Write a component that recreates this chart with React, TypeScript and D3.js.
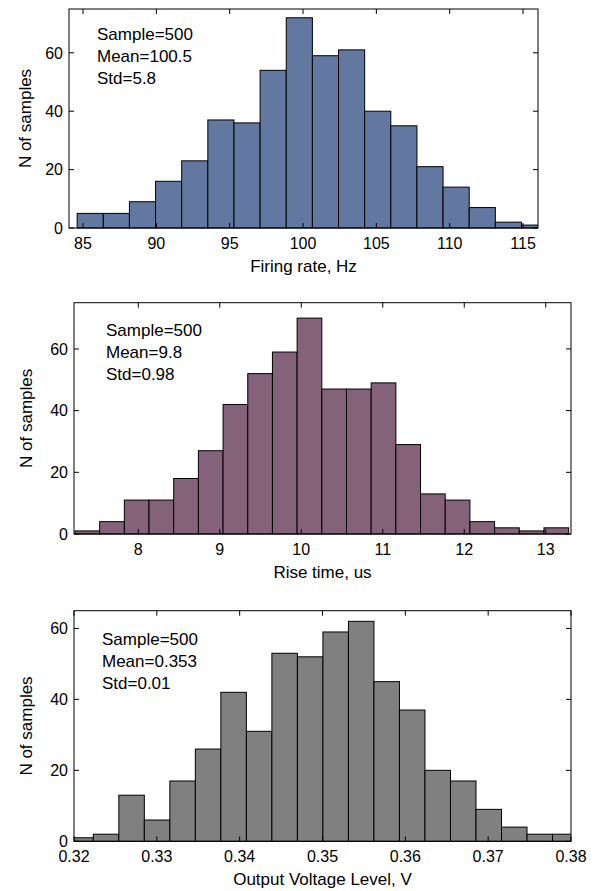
import React from "react";
import * as d3 from "d3";

// histogram counts, one per bin
const firingCounts = [5, 5, 9, 16, 23, 37, 36, 54, 72, 59, 61, 40, 35, 21, 14, 7, 2, 1];
const firingBinStart = 84.6;
const firingBinWidth = 1.782;
const firingTicks = [85, 90, 95, 100, 105, 110, 115];

const riseCounts = [1, 4, 11, 11, 18, 27, 42, 52, 59, 70, 47, 47, 49, 29, 13, 11, 4, 2, 1, 2];
const riseBinStart = 7.223;
const riseBinWidth = 0.3029;
const riseTicks = [8, 9, 10, 11, 12, 13];

const voltCounts = [1, 2, 13, 6, 17, 26, 42, 31, 53, 52, 59, 62, 45, 37, 20, 17, 9, 4, 2, 2];
const voltBinStart = 0.31925;
const voltBinWidth = 0.00308;
const voltTicks = [0.32, 0.33, 0.34, 0.35, 0.36, 0.37, 0.38];

const yTicks = [0, 20, 40, 60];

const firingStats = ["Sample=500", "Mean=100.5", "Std=5.8"];
const riseStats = ["Sample=500", "Mean=9.8", "Std=0.98"];
const voltStats = ["Sample=500", "Mean=0.353", "Std=0.01"];

const FONT = "'Liberation Sans', Arial, Helvetica, sans-serif";

function Hist({ id, box, xDomain, yMax, counts, binStart, binWidth, xTicks, tickFmt, fill, stats, statsPos, xLabel, yLabelX }) {
    const [left, top, right, bottom] = box;
    const x = d3.scaleLinear().domain(xDomain).range([left, right]);
    const y = d3.scaleLinear().domain([0, yMax]).range([bottom, top]);
    const tl = 5;

    return (
        <g>
            <defs>
                <clipPath id={id}>
                    <rect x={left} y={top - 2} width={right - left} height={bottom - top + 4} />
                </clipPath>
            </defs>
            <g clipPath={`url(#${id})`}>
                {counts.map((c, i) => {
                    const x0 = x(binStart + i * binWidth);
                    const x1 = x(binStart + (i + 1) * binWidth);
                    return (
                        <rect key={i} x={x0} y={y(c)} width={x1 - x0} height={y(0) - y(c)}
                            fill={fill} stroke="#000" strokeWidth={1} />
                    );
                })}
            </g>
            {/* inward ticks all round, like matlab box on */}
            {xTicks.map(t => (
                <g key={"x" + t}>
                    <line x1={x(t)} x2={x(t)} y1={bottom} y2={bottom - tl} stroke="#000" />
                    <line x1={x(t)} x2={x(t)} y1={top} y2={top + tl} stroke="#000" />
                    <text x={x(t)} y={bottom + 21} textAnchor="middle" fontSize={16} fontFamily={FONT}>{tickFmt(t)}</text>
                </g>
            ))}
            {yTicks.map(t => (
                <g key={"y" + t}>
                    <line x1={left} x2={left + tl} y1={y(t)} y2={y(t)} stroke="#000" />
                    <line x1={right} x2={right - tl} y1={y(t)} y2={y(t)} stroke="#000" />
                    <text x={left - 6} y={y(t)} dy="0.36em" textAnchor="end" fontSize={16} fontFamily={FONT}>{t}</text>
                </g>
            ))}
            <rect x={left} y={top} width={right - left} height={bottom - top} fill="none" stroke="#000" strokeWidth={1} />
            {stats.map((s, i) => (
                <text key={s} x={statsPos[0]} y={statsPos[1] + i * 21.8} fontSize={17} fontFamily={FONT}>{s}</text>
            ))}
            <text x={(left + right) / 2} y={bottom + 43.5} textAnchor="middle" fontSize={17} fontFamily={FONT}>{xLabel}</text>
            <text transform={`translate(${yLabelX},${(top + bottom) / 2}) rotate(-90)`} textAnchor="middle"
                fontSize={17} fontFamily={FONT}>N of samples</text>
        </g>
    );
}

export default function App() {
    return (
        <svg width={599} height={891} style={{ position: "absolute", left: 0, top: 0, background: "#fff" }}>
            <Hist id="c1" box={[69, 9, 538, 228]} xDomain={[84.045, 116.02]} yMax={75}
                counts={firingCounts} binStart={firingBinStart} binWidth={firingBinWidth}
                xTicks={firingTicks} tickFmt={d => String(d)} fill="#6278a0"
                stats={firingStats} statsPos={[97, 40]} xLabel="Firing rate, Hz" yLabelX={31} />
            <Hist id="c2" box={[74, 302.7, 571, 534]} xDomain={[7.211, 13.31]} yMax={75}
                counts={riseCounts} binStart={riseBinStart} binWidth={riseBinWidth}
                xTicks={riseTicks} tickFmt={d => String(d)} fill="#84627a"
                stats={riseStats} statsPos={[106, 336]} xLabel="Rise time, us" yLabelX={32} />
            <Hist id="c3" box={[74, 610.7, 571, 841.3]} xDomain={[0.32, 0.38]} yMax={65}
                counts={voltCounts} binStart={voltBinStart} binWidth={voltBinWidth}
                xTicks={voltTicks} tickFmt={d => d.toFixed(2)} fill="#808080"
                stats={voltStats} statsPos={[102, 645]} xLabel="Output Voltage Level, V" yLabelX={32} />
        </svg>
    );
}
